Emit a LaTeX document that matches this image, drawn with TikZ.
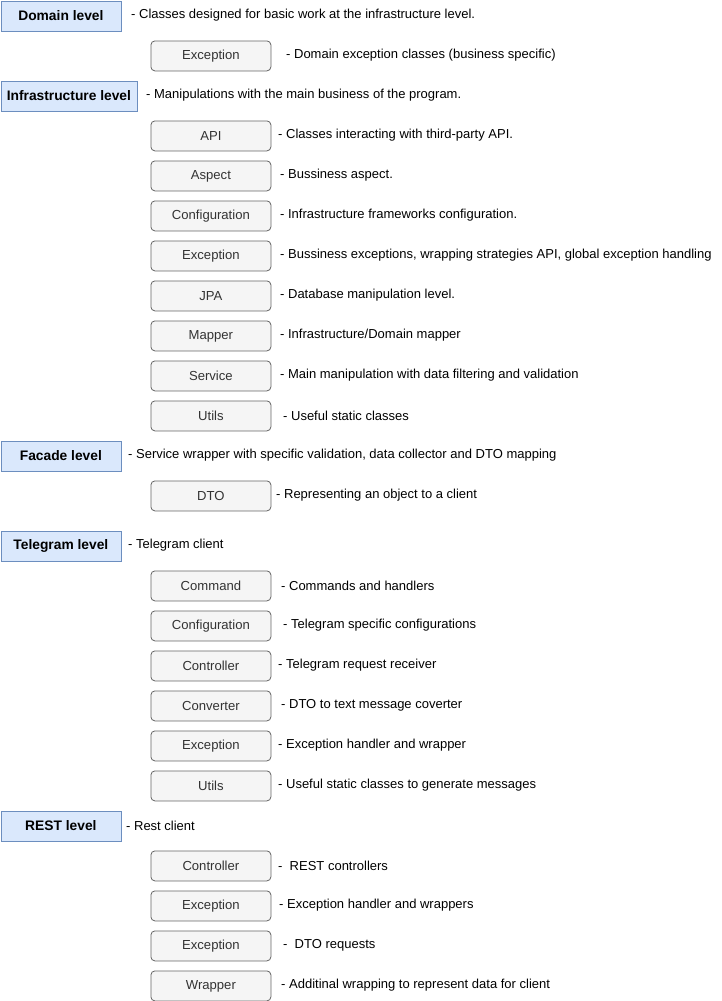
\documentclass[tikz,border=0pt]{standalone}
\usepackage{fontspec}
\setmainfont{Liberation Sans}
\definecolor{lvlfill}{HTML}{DAE8FC}
\definecolor{lvldraw}{HTML}{6C8EBF}
\definecolor{pkgfill}{HTML}{F5F5F5}
\definecolor{pkgdraw}{HTML}{666666}
\definecolor{pkgtext}{HTML}{333333}
\tikzset{
	level/.style={draw=lvldraw,fill=lvlfill,line width=0.8pt,anchor=north west,minimum width=120pt,minimum height=30pt,inner sep=0,font=\fontsize{13.8}{15}\selectfont\bfseries},
	pkg/.style={draw=pkgdraw,fill=pkgfill,text=pkgtext,line width=0.8pt,rounded corners=4pt,anchor=north west,minimum width=120pt,minimum height=30pt,inner sep=0,font=\fontsize{13.1}{15}\selectfont},
	desc/.style={anchor=west,inner sep=0,font=\fontsize{13}{15}\selectfont}
}
\begin{document}
\begin{tikzpicture}[x=1pt,y=-1pt]
	\useasboundingbox (0,0) rectangle (721,1001);
	% domain
	\node[level] (domain) at (0.5,0.5) {Domain level};
	\node[desc] (domaind) at (131,15.5) {- Classes designed for basic work at the infrastructure level.};
	\node[pkg] (dexc) at (150.5,40.5) {Exception};
	\node[desc] (dexcd) at (286,55.5) {- Domain exception classes (business specific)};
	% infrastructure
	\node[level,minimum width=136pt] (infra) at (0.5,80.5) {Infrastructure level};
	\node[desc] (infrad) at (146,95.5) {- Manipulations with the main business of the program.};
	\node[pkg] (api) at (150.5,120.5) {API};
	\node[desc] (apid) at (278,135.5) {- Classes interacting with third-party API.};
	\node[pkg] (aspect) at (150.5,160.5) {Aspect};
	\node[desc] (aspectd) at (280,175.5) {- Bussiness aspect.};
	\node[pkg] (iconf) at (150.5,200.5) {Configuration};
	\node[desc] (iconfd) at (280,215.5) {- Infrastructure frameworks configuration.};
	\node[pkg] (iexc) at (150.5,240.5) {Exception};
	\node[desc] (iexcd) at (280,255.5) {- Bussiness exceptions, wrapping strategies API, global exception handling};
	\node[pkg] (jpa) at (150.5,280.5) {JPA};
	\node[desc] (jpad) at (280,295.5) {- Database manipulation level.};
	\node[pkg] (mapper) at (150.5,320.5) {Mapper};
	\node[desc] (mapperd) at (280,335.5) {- Infrastructure/Domain mapper};
	\node[pkg] (service) at (150.5,360.5) {Service};
	\node[desc] (serviced) at (280,375.5) {- Main manipulation with data filtering and validation};
	\node[pkg] (iutils) at (150.5,400.5) {Utils};
	\node[desc] (iutilsd) at (283,415.5) {- Useful static classes};
	% facade
	\node[level] (facade) at (0.5,440.5) {Facade level};
	\node[desc] (facaded) at (128,455.5) {- Service wrapper with specific validation, data collector and DTO mapping};
	\node[pkg] (dto) at (150.5,480.5) {DTO};
	\node[desc] (dtod) at (276,495.5) {- Representing an object to a client};
	% telegram
	\node[level] (tg) at (0.5,530.5) {Telegram level};
	\node[desc] (tgd) at (128,545.5) {- Telegram client};
	\node[pkg] (cmd) at (150.5,570.5) {Command};
	\node[desc] (cmdd) at (281,585.5) {- Commands and handlers};
	\node[pkg] (tconf) at (150.5,610.5) {Configuration};
	\node[desc] (tconfd) at (283,625.5) {- Telegram specific configurations};
	\node[pkg] (tctrl) at (150.5,650.5) {Controller};
	\node[desc] (tctrld) at (278,665.5) {- Telegram request receiver};
	\node[pkg] (conv) at (150.5,690.5) {Converter};
	\node[desc] (convd) at (281,705.5) {- DTO to text message coverter};
	\node[pkg] (texc) at (150.5,730.5) {Exception};
	\node[desc] (texcd) at (278,745.5) {- Exception handler and wrapper};
	\node[pkg] (tutils) at (150.5,770.5) {Utils};
	\node[desc] (tutilsd) at (278,785.5) {- Useful static classes to generate messages};
	% rest
	\node[level] (rest) at (0.5,810.5) {REST level};
	\node[desc] (restd) at (126,825.5) {- Rest client};
	\node[pkg] (rctrl) at (150.5,850.5) {Controller};
	\node[desc] (rctrld) at (278,865.5) {-~~REST controllers};
	\node[pkg] (rexc) at (150.5,890.5) {Exception};
	\node[desc] (rexcd) at (279,905.5) {- Exception handler and wrappers};
	\node[pkg] (rreq) at (150.5,930.5) {Exception};
	\node[desc] (rreqd) at (283,945.5) {-~~DTO requests};
	\node[pkg] (wrap) at (150.5,970.5) {Wrapper};
	\node[desc] (wrapd) at (281,985.5) {- Additinal wrapping to represent data for client};
\end{tikzpicture}
\end{document}
